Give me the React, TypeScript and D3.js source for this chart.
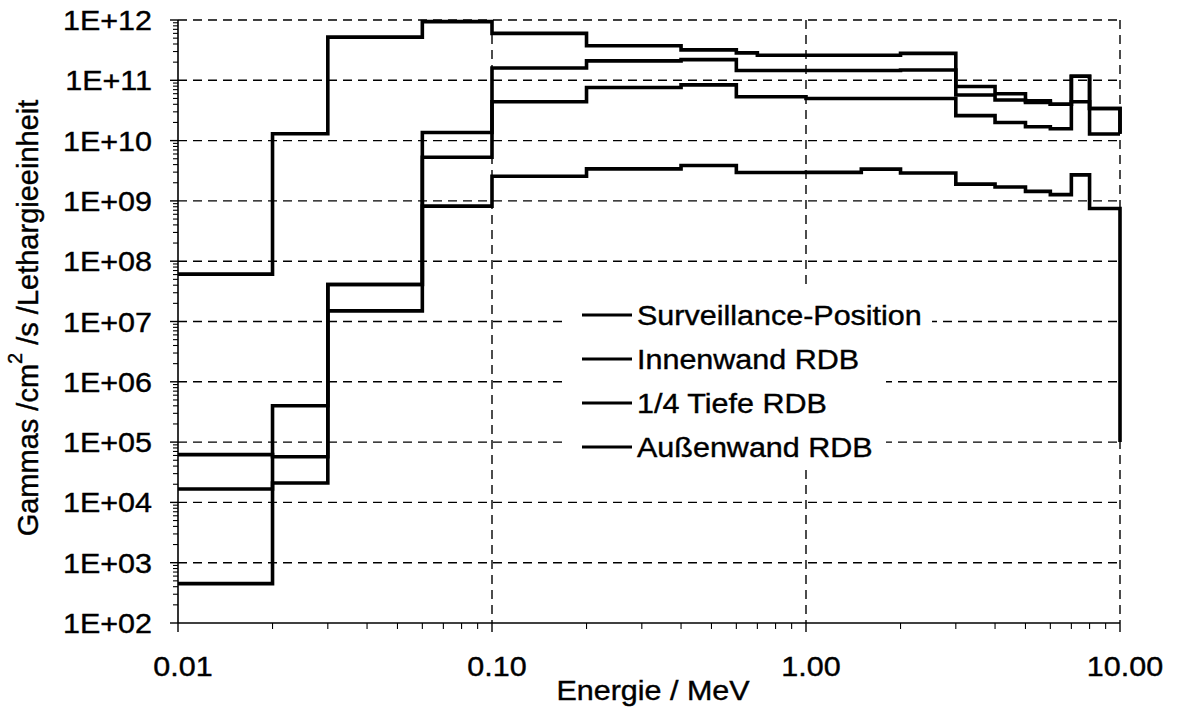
import React from "react";
import * as d3 from "d3";

// Energy group boundaries (MeV); last entry closes the final group
const energyEdges = [0.01, 0.02, 0.03, 0.06, 0.1, 0.2, 0.4, 0.6, 0.7, 1.0, 1.5, 2.0, 3.0, 4.0, 5.0, 6.0, 7.0, 8.0, 10.0];

// Group values (one per group) plus the closing value plotted at 10 MeV
const surveillance = [6.1e7, 1.3e10, 5.2e11, 9.4e11, 6.0e11, 3.75e11, 3.2e11, 2.85e11, 2.6e11, 2.6e11, 2.6e11, 2.8e11, 7.9e10, 6.0e10, 4.55e10, 4.0e10, 1.17e11, 3.4e10, 1.3e10];
const innenwand = [6.2e4, 5.7e4, 4.1e7, 1.36e10, 1.6e11, 2.1e11, 2.2e11, 1.45e11, 1.45e11, 1.45e11, 1.45e11, 1.48e11, 5.7e10, 4.7e10, 4.3e10, 4.0e10, 1.17e11, 3.4e10, 1.3e10];
const viertelTiefe = [1.67e4, 4.0e5, 4.1e7, 5.3e9, 4.4e10, 7.6e10, 8.4e10, 5.35e10, 5.35e10, 5.0e10, 5.0e10, 5.0e10, 2.6e10, 2.0e10, 1.7e10, 1.57e10, 4.4e10, 1.29e10, 1.29e10];
const aussenwand = [4.5e2, 2.1e4, 1.5e7, 8.2e8, 2.56e9, 3.4e9, 3.86e9, 2.96e9, 2.96e9, 2.97e9, 3.37e9, 2.9e9, 1.9e9, 1.7e9, 1.44e9, 1.27e9, 2.7e9, 7.5e8, 1.0e5];

const seriesNames = ["Surveillance-Position", "Innenwand RDB", "1/4 Tiefe RDB", "Außenwand RDB"];
const seriesValues = [surveillance, innenwand, viertelTiefe, aussenwand];

const xTickValues = [0.01, 0.1, 1, 10];
const xTickLabels = ["0.01", "0.10", "1.00", "10.00"];
const yTickValues = [1e2, 1e3, 1e4, 1e5, 1e6, 1e7, 1e8, 1e9, 1e10, 1e11, 1e12];
const yTickLabels = ["1E+02", "1E+03", "1E+04", "1E+05", "1E+06", "1E+07", "1E+08", "1E+09", "1E+10", "1E+11", "1E+12"];

const xTitle = "Energie / MeV";

const W = 1179;
const H = 708;
const left = 178, right = 1120, top = 20, bottom = 623;
const FONT = "'Liberation Sans', Arial, Helvetica, sans-serif";
const SX = 1.09;

export default function App() {
  const x = d3.scaleLog().domain([0.01, 10]).range([left, right]);
  const y = d3.scaleLog().domain([1e2, 1e12]).range([bottom, top]);

  const line = d3
    .line<[number, number]>()
    .x((d) => x(d[0]))
    .y((d) => y(d[1]))
    .curve(d3.curveStepAfter);

  const minorX: number[] = [];
  for (let p = -2; p < 1; p++) {
    for (let m = 2; m <= 9; m++) minorX.push(m * Math.pow(10, p));
  }
  const minorY: number[] = [];
  for (let p = 2; p < 12; p++) {
    for (let m = 2; m <= 9; m++) minorY.push(m * Math.pow(10, p));
  }

  const legendX0 = 582, legendX1 = 632, legendTextX = 637;
  const legendBaselines = [325, 369, 413, 457];

  const stretched = (tx: number, ty: number, content: React.ReactNode, anchor: string, key?: any) => (
    <g key={key} transform={`translate(${tx},${ty}) scale(${SX},1)`}>
      <text x={0} y={0} textAnchor={anchor as any} fontFamily={FONT} fontSize={28} fill="#000" stroke="#000" strokeWidth={0.4}>
        {content}
      </text>
    </g>
  );

  return (
    <svg width={W} height={H} style={{ position: "absolute", left: 0, top: 0, background: "#fff" }}>
      <rect x={0} y={0} width={W} height={H} fill="#fff" />
      {/* horizontal grid */}
      {yTickValues.slice(1).map((v) => (
        <line key={"gy" + v} x1={left} x2={right} y1={y(v)} y2={y(v)} stroke="#000" strokeWidth={1.4} strokeDasharray="9,6" />
      ))}
      {/* vertical grid */}
      {xTickValues.slice(1).map((v) => (
        <line key={"gx" + v} x1={x(v)} x2={x(v)} y1={top} y2={bottom} stroke="#000" strokeWidth={1.4} strokeDasharray="9,6" />
      ))}
      {/* legend background */}
      <rect x={562} y={290} width={324} height={180} fill="#fff" />
      <rect x={880} y={300} width={52} height={30} fill="#fff" />
      {/* series */}
      {seriesValues.map((vals, i) => {
        const pts: [number, number][] = energyEdges.map((e, j) => [e, vals[j]]);
        return <path key={"s" + i} d={line(pts) || ""} fill="none" stroke="#000" strokeWidth={3.6} strokeLinejoin="miter" />;
      })}
      {/* axes */}
      <line x1={left} x2={left} y1={top} y2={bottom} stroke="#000" strokeWidth={1.6} />
      <line x1={left} x2={right} y1={bottom} y2={bottom} stroke="#000" strokeWidth={1.6} />
      {yTickValues.map((v) => (
        <line key={"ty" + v} x1={left - 8} x2={left} y1={y(v)} y2={y(v)} stroke="#000" strokeWidth={1.4} />
      ))}
      {minorY.map((v) => (
        <line key={"my" + v} x1={left - 5} x2={left} y1={y(v)} y2={y(v)} stroke="#000" strokeWidth={1.1} />
      ))}
      {xTickValues.map((v) => (
        <line key={"tx" + v} x1={x(v)} x2={x(v)} y1={bottom} y2={bottom + 9} stroke="#000" strokeWidth={1.4} />
      ))}
      {minorX.map((v) => (
        <line key={"mx" + v} x1={x(v)} x2={x(v)} y1={bottom} y2={bottom + 6} stroke="#000" strokeWidth={1.1} />
      ))}
      {/* tick labels */}
      {yTickValues.map((v, i) => stretched(152, y(v) + 10, yTickLabels[i], "end", "yl" + v))}
      {xTickValues.map((v, i) => stretched(x(v) + 5, 676, xTickLabels[i], "middle", "xl" + v))}
      {stretched(653, 700, xTitle, "middle", "xt")}
      {/* y title */}
      <text transform={`translate(38,318) rotate(-90)`} textAnchor="middle" fontFamily={FONT} fontSize={29} fill="#000" stroke="#000" strokeWidth={0.4}>
        Gammas /cm
        <tspan dy={-16} fontSize={20}>2</tspan>
        <tspan dy={16}> /s /Lethargieeinheit</tspan>
      </text>
      {/* legend */}
      {seriesNames.map((name, i) => (
        <g key={"lg" + i}>
          <line x1={legendX0} x2={legendX1} y1={legendBaselines[i] - 10} y2={legendBaselines[i] - 10} stroke="#000" strokeWidth={3} />
          {stretched(legendTextX, legendBaselines[i], name, "start")}
        </g>
      ))}
    </svg>
  );
}
